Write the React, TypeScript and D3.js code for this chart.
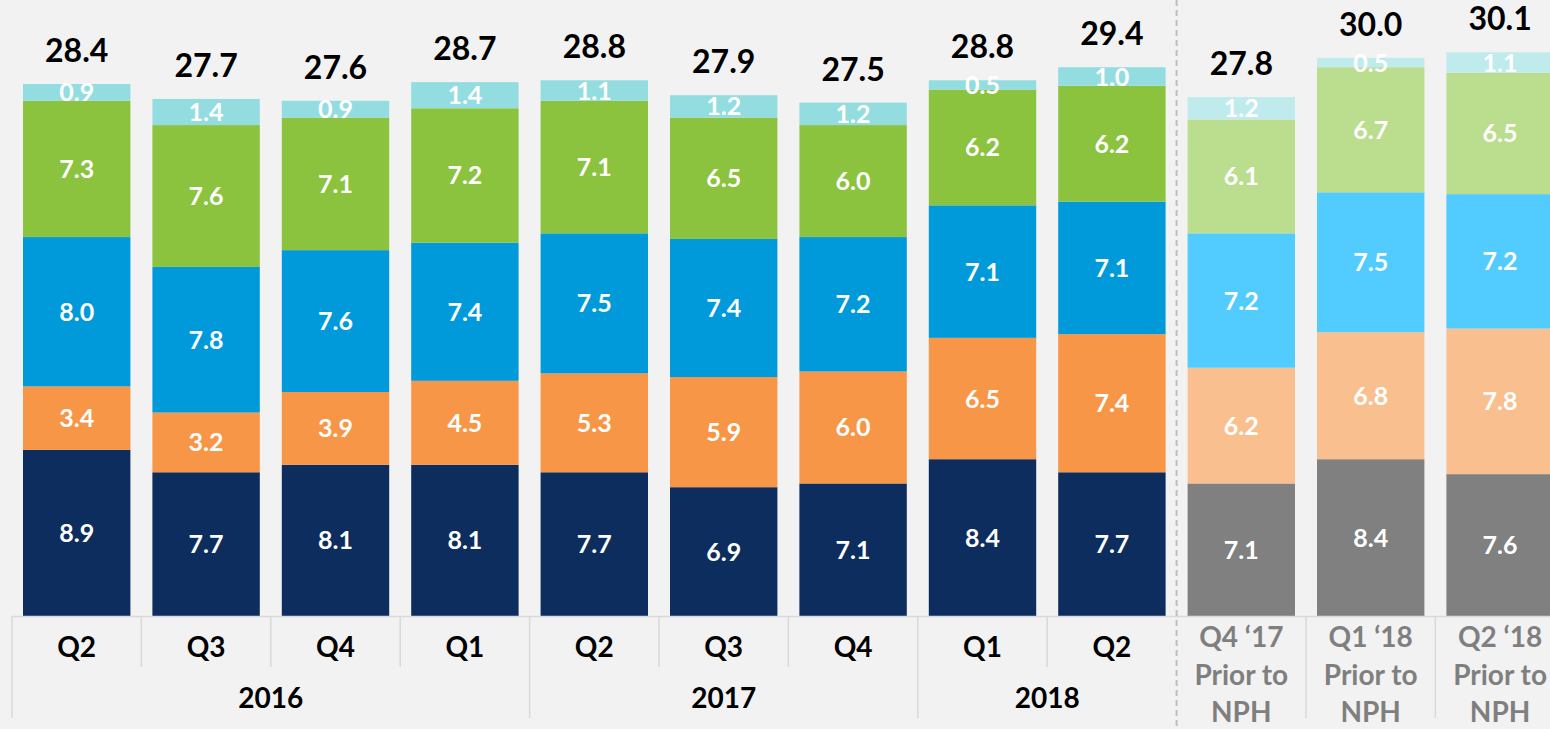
import React from 'react';
import * as d3 from 'd3';

// quarters along the axis; the last three are the "prior to NPH" restatements
const quarters = ['Q2', 'Q3', 'Q4', 'Q1', 'Q2', 'Q3', 'Q4', 'Q1', 'Q2', 'Q4 ‘17', 'Q1 ‘18', 'Q2 ‘18'];
const priorFlags = [false, false, false, false, false, false, false, false, false, true, true, true];
const years = ['2016', '2017', '2018'];
const yearSpans = [4, 3, 2];

const seriesKeys = ['s1', 's2', 's3', 's4', 's5'];
const s1 = [8.9, 7.7, 8.1, 8.1, 7.7, 6.9, 7.1, 8.4, 7.7, 7.1, 8.4, 7.6];
const s2 = [3.4, 3.2, 3.9, 4.5, 5.3, 5.9, 6.0, 6.5, 7.4, 6.2, 6.8, 7.8];
const s3 = [8.0, 7.8, 7.6, 7.4, 7.5, 7.4, 7.2, 7.1, 7.1, 7.2, 7.5, 7.2];
const s4 = [7.3, 7.6, 7.1, 7.2, 7.1, 6.5, 6.0, 6.2, 6.2, 6.1, 6.7, 6.5];
const s5 = [0.9, 1.4, 0.9, 1.4, 1.1, 1.2, 1.2, 0.5, 1.0, 1.2, 0.5, 1.1];
const totals = [28.4, 27.7, 27.6, 28.7, 28.8, 27.9, 27.5, 28.8, 29.4, 27.8, 30.0, 30.1];

const mainColors = ['#0d2d5e', '#f79646', '#009ada', '#8bc33f', '#93dde1'];
const priorColors = ['#808080', '#fabf8f', '#52cbfe', '#bbdd8e', '#c0ebed'];

const W = 1550;
const H = 729;
const FONT = 'Lato, Carlito, Calibri, sans-serif';

function App() {
  const rows = quarters.map((q, i) => ({
    i,
    s1: s1[i],
    s2: s2[i],
    s3: s3[i],
    s4: s4[i],
    s5: s5[i],
  }));
  const stacked = d3.stack<any>().keys(seriesKeys)(rows);

  const step = 129.4;
  const x = d3
    .scaleBand<number>()
    .domain(quarters.map((_, i) => i))
    .range([12, 12 + step * quarters.length])
    .paddingInner(0.17)
    .paddingOuter(0.085);
  const y = d3.scaleLinear().domain([0, 33]).range([616, 0]);

  const edge = (i: number) => 12 + i * x.step();
  const base = y(0);

  // year group boundaries
  const yearStarts: number[] = [];
  yearSpans.reduce((acc, n) => {
    yearStarts.push(acc);
    return acc + n;
  }, 0);
  const sepIndex = priorFlags.indexOf(true);

  return (
    <div style={{ position: 'absolute', left: 0, top: 0 }}>
      <svg width={W} height={H} style={{ display: 'block', background: '#f2f2f2' }}>
        <rect width={W} height={H} fill="#f2f2f2" />
        {stacked.map((layer, k) =>
          layer.map((d, i) => (
            <rect
              key={`${k}-${i}`}
              x={x(i)}
              y={y(d[1])}
              width={x.bandwidth()}
              height={y(d[0]) - y(d[1])}
              fill={priorFlags[i] ? priorColors[k] : mainColors[k]}
            />
          )),
        )}
        {stacked.map((layer, k) =>
          layer.map((d, i) => (
            <text
              key={`l${k}-${i}`}
              x={(x(i) as number) + x.bandwidth() / 2}
              y={(y(d[0]) + y(d[1])) / 2}
              dy="0.36em"
              textAnchor="middle"
              fill="#ffffff"
              fontFamily={FONT}
              fontWeight="bold"
              fontSize={25}
            >
              {(d[1] - d[0]).toFixed(1)}
            </text>
          )),
        )}
        {totals.map((t, i) => (
          <text
            key={`t${i}`}
            x={(x(i) as number) + x.bandwidth() / 2}
            y={y(stacked[stacked.length - 1][i][1]) - 22}
            textAnchor="middle"
            fill="#000000"
            fontFamily={FONT}
            fontWeight="bold"
            fontSize={32}
          >
            {t.toFixed(1)}
          </text>
        ))}

        {/* category axis */}
        <line x1={12} x2={W} y1={base + 0.5} y2={base + 0.5} stroke="#d9d9d9" strokeWidth={1.5} />
        {quarters.map((_, i) => {
          const isYear = yearStarts.includes(i) || i >= sepIndex;
          if (i === sepIndex) return null;
          return (
            <line
              key={`d${i}`}
              x1={edge(i)}
              x2={edge(i)}
              y1={base}
              y2={isYear ? 718 : 667}
              stroke="#d9d9d9"
              strokeWidth={1.5}
            />
          );
        })}
        <line
          x1={edge(sepIndex)}
          x2={edge(sepIndex)}
          y1={0}
          y2={H}
          stroke="#bfbfbf"
          strokeWidth={2}
          strokeDasharray="6,4"
        />
        {quarters.map((q, i) => {
          const cx = (x(i) as number) + x.bandwidth() / 2;
          if (priorFlags[i]) {
            return (
              <text
                key={`q${i}`}
                x={cx}
                textAnchor="middle"
                fill="#7f7f7f"
                fontFamily={FONT}
                fontWeight="bold"
                fontSize={28}
              >
                <tspan x={cx} y={647}>{q}</tspan>
                <tspan x={cx} y={685}>Prior to</tspan>
                <tspan x={cx} y={722}>NPH</tspan>
              </text>
            );
          }
          return (
            <text
              key={`q${i}`}
              x={cx}
              y={657}
              textAnchor="middle"
              fill="#000000"
              fontFamily={FONT}
              fontWeight="bold"
              fontSize={28}
            >
              {q}
            </text>
          );
        })}
        {years.map((yr, j) => {
          const a = edge(yearStarts[j]);
          const b = edge(yearStarts[j] + yearSpans[j]);
          return (
            <text
              key={yr}
              x={(a + b) / 2}
              y={708}
              textAnchor="middle"
              fill="#000000"
              fontFamily={FONT}
              fontWeight="bold"
              fontSize={28}
            >
              {yr}
            </text>
          );
        })}
      </svg>
    </div>
  );
}

export default App;
